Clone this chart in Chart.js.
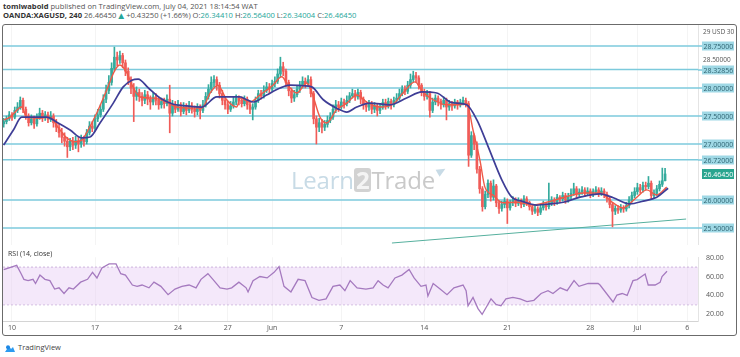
<!DOCTYPE html>
<html>
<head>
<meta charset="utf-8">
<script src="https://cdn.jsdelivr.net/npm/chart.js@4.4.1/dist/chart.umd.min.js"></script>
<style>
  html, body { margin:0; padding:0; background:#fff; }
  body { width:740px; height:357px; position:relative; overflow:hidden; font-family:"Open Sans", "DejaVu Sans", sans-serif; }
  .hdr { position:absolute; left:3px; white-space:nowrap; font-size:7.6px; color:#555; line-height:9px; }
  #h1 { top:2px; }
  #h2 { top:11px; }
  .hdr b { color:#333; font-weight:700; }
  .tv { color:#26a69a; }
  #frame { position:absolute; left:2px; top:24px; width:735px; height:312px; border:1px solid #6b6b6b; border-radius:3px; box-sizing:border-box; }
  #priceCanvas { position:absolute; left:3px; top:25px; }
  #rsiCanvas { position:absolute; left:3px; top:245px; }
  #wm { position:absolute; left:291px; top:165px; font-size:24px; line-height:30px; white-space:nowrap; letter-spacing:-0.2px; pointer-events:none; }
  #wm .a { color:#c8dbe6; }
  #wm .two { display:inline-block; background:#d2d2d2; color:#f4f4f4; border-radius:3px; padding:0 2px; line-height:24px; font-weight:700; }
  #wm .b { color:#c9c9c9; }
  #wm .flag { display:inline-block; width:0; height:0; border-left:9px solid #c8dbe6; border-top:4px solid transparent; border-bottom:4px solid transparent; vertical-align:14px; margin-left:2px; transform:rotate(-30deg); }
  #foot { position:absolute; left:4px; top:342px; font-size:7.5px; color:#444; white-space:nowrap; }
  #foot svg { vertical-align:middle; margin-right:2px; }
</style>
</head>
<body>
<div class="hdr" id="h1"><b>tomiwabold</b> published on TradingView.com, July 04, 2021 18:14:54 WAT</div>
<div class="hdr" id="h2"><b>OANDA:XAGUSD, 240</b> 26.46450 <span class="tv">▲</span> +0.43250 (+1.66%) O:<span class="tv">26.34410</span> H:<span class="tv">26.56400</span> L:<span class="tv">26.34004</span> C:<span class="tv">26.46450</span></div>
<div id="frame"></div>
<canvas id="priceCanvas" width="733" height="220"></canvas>
<canvas id="rsiCanvas" width="733" height="90"></canvas>
<div id="wm"><span class="a">Learn</span><span class="two">2</span><span class="b">Trade</span><span class="flag"></span></div>
<div id="foot"><svg width="12" height="9" viewBox="0 0 12 9"><path d="M1 8 L5 2 L7 5 L9 3 L11 8 Z" fill="#2d9bf0"/><circle cx="4" cy="3.2" r="2" fill="#1e88e5"/></svg>TradingView</div>

<script>
// ---------- DATA ----------
const firstOpen = 27.36;
const closes = [
27.40,27.45,27.52,27.48,27.60,27.66,27.78,27.62,27.50,27.38,
27.45,27.36,27.48,27.55,27.47,27.52,27.44,27.50,27.38,27.30,
27.20,27.12,27.05,26.95,27.05,26.98,27.06,27.00,27.08,27.04,
27.20,27.32,27.28,27.45,27.52,27.62,27.80,27.95,28.10,28.35,
28.55,28.50,28.58,28.45,28.30,28.15,28.00,27.85,27.92,27.85,
27.78,27.88,27.80,27.75,27.84,27.78,27.70,27.76,27.72,27.80,
27.55,27.70,27.62,27.70,27.58,27.66,27.60,27.68,27.62,27.58,
27.65,27.60,27.70,27.85,27.98,28.10,28.15,28.05,27.90,27.78,
27.70,27.62,27.68,27.75,27.82,27.78,27.72,27.80,27.70,27.62,
27.66,27.78,27.90,27.86,27.96,28.02,27.98,28.08,28.12,28.25,
28.38,28.30,28.10,27.95,27.82,27.88,27.98,28.05,28.12,28.08,
28.15,27.90,27.45,27.30,27.38,27.30,27.35,27.42,27.48,27.62,
27.70,27.66,27.75,27.72,27.78,27.86,27.90,27.84,27.92,27.80,
27.70,27.66,27.72,27.62,27.68,27.60,27.66,27.74,27.68,27.76,
27.70,27.78,27.82,27.90,27.98,27.94,28.05,28.15,28.22,28.18,
28.05,27.92,27.85,27.90,27.60,27.75,27.82,27.76,27.70,27.78,
27.66,27.72,27.68,27.75,27.70,27.74,27.78,27.72,26.80,27.15,
27.00,26.55,26.20,25.88,26.10,26.30,26.05,26.25,25.95,25.85,
25.92,25.98,25.86,25.95,26.00,25.94,25.98,25.92,26.02,25.96,
25.88,25.80,25.84,25.78,25.86,25.92,25.88,25.95,26.00,25.96,
26.05,26.02,26.08,26.00,26.06,26.12,26.20,26.10,26.14,26.18,
26.12,26.16,26.10,26.15,26.18,26.12,26.16,26.10,26.02,25.92,
25.80,25.85,25.82,25.86,25.84,25.90,26.00,26.08,26.15,26.22,
26.18,26.26,26.24,26.30,26.08,26.12,26.20,26.28,26.3441,26.4645
];
const highs = [
27.46,27.50,27.58,27.56,27.66,27.74,27.84,27.82,27.66,27.54,
27.52,27.50,27.54,27.64,27.60,27.58,27.57,27.58,27.54,27.44,
27.36,27.28,27.20,27.12,27.10,27.12,27.14,27.12,27.16,27.14,
27.26,27.40,27.40,27.52,27.62,27.70,27.88,28.05,28.22,28.45,
28.73,28.64,28.66,28.62,28.50,28.36,28.20,28.08,28.02,27.98,
27.92,27.96,27.94,27.86,27.92,27.90,27.84,27.82,27.82,27.88,
28.05,27.78,27.76,27.78,27.74,27.74,27.72,27.76,27.74,27.68,
27.72,27.70,27.78,27.92,28.06,28.20,28.22,28.20,28.10,27.96,
27.84,27.76,27.76,27.84,27.88,27.86,27.84,27.86,27.84,27.76,
27.72,27.84,27.96,27.96,28.04,28.10,28.08,28.14,28.20,28.34,
28.55,28.46,28.34,28.14,28.00,27.96,28.04,28.12,28.20,28.18,
28.22,28.20,27.94,27.50,27.46,27.44,27.42,27.50,27.56,27.70,
27.78,27.76,27.82,27.80,27.86,27.92,27.98,27.96,27.98,27.96,
27.84,27.76,27.78,27.76,27.74,27.72,27.72,27.80,27.80,27.82,
27.80,27.84,27.90,27.98,28.04,28.04,28.12,28.25,28.30,28.28,
28.22,28.08,27.98,27.96,27.94,27.82,27.88,27.86,27.80,27.84,
27.82,27.78,27.76,27.80,27.78,27.80,27.84,27.82,27.76,27.22,
27.18,27.04,26.60,26.24,26.16,26.36,26.34,26.36,26.28,25.98,
25.98,26.04,26.02,26.00,26.06,26.04,26.04,26.02,26.08,26.06,
25.98,25.92,25.90,25.88,25.92,25.98,25.96,26.30,26.06,26.04,
26.10,26.08,26.14,26.12,26.12,26.20,26.30,26.24,26.20,26.24,
26.22,26.22,26.20,26.20,26.24,26.22,26.22,26.20,26.14,26.06,
25.96,25.90,25.90,25.92,25.90,25.96,26.06,26.14,26.22,26.30,
26.28,26.32,26.32,26.42,26.34,26.18,26.26,26.34,26.57,26.564
];
const lows = [
27.30,27.36,27.42,27.42,27.45,27.56,27.62,27.56,27.44,27.32,
27.34,27.28,27.32,27.44,27.40,27.42,27.38,27.40,27.30,27.22,
27.12,27.02,26.96,26.76,26.88,26.90,26.92,26.86,26.94,26.96,
27.00,27.16,27.22,27.24,27.40,27.48,27.58,27.74,27.90,28.05,
28.30,28.40,28.44,28.36,28.22,28.06,27.90,27.40,27.78,27.76,
27.68,27.72,27.70,27.62,27.70,27.70,27.62,27.64,27.64,27.68,
27.20,27.50,27.56,27.58,27.50,27.54,27.52,27.56,27.55,27.48,
27.52,27.45,27.56,27.66,27.80,27.92,28.02,27.96,27.82,27.70,
27.62,27.54,27.58,27.64,27.70,27.70,27.66,27.68,27.62,27.54,
27.43,27.62,27.74,27.80,27.82,27.92,27.90,27.94,28.02,28.08,
28.20,28.22,28.02,27.86,27.74,27.76,27.84,27.92,28.00,28.00,
28.04,27.84,27.36,27.00,27.22,27.20,27.24,27.30,27.38,27.44,
27.56,27.58,27.62,27.64,27.68,27.74,27.82,27.78,27.80,27.72,
27.62,27.58,27.60,27.54,27.56,27.50,27.54,27.62,27.62,27.64,
27.62,27.66,27.74,27.78,27.86,27.88,27.90,28.00,28.10,28.10,
27.98,27.86,27.78,27.80,27.48,27.56,27.70,27.68,27.62,27.66,
27.43,27.60,27.60,27.64,27.62,27.66,27.70,27.66,26.60,26.76,
26.90,26.48,26.12,25.80,25.84,26.04,25.98,26.00,25.88,25.76,
25.80,25.86,25.58,25.82,25.90,25.88,25.90,25.86,25.88,25.90,
25.82,25.74,25.76,25.72,25.74,25.82,25.82,25.84,25.90,25.90,
25.92,25.96,25.98,25.94,25.96,26.02,26.08,26.04,26.06,26.10,
26.06,26.08,26.04,26.06,26.10,26.06,26.08,26.04,25.96,25.86,
25.52,25.74,25.76,25.78,25.78,25.80,25.86,25.96,26.04,26.10,
26.12,26.14,26.18,26.20,26.02,26.04,26.08,26.16,26.24,26.34
];

// short (red) and long (blue) moving averages
const redMaIdx = [0,2.3,6.5,8.3,13.1,16.7,19.6,22.8,25.8,28.2,30.5,33.6,37.2,40.2,42,44.5,46.7,49.3,54,58.9,62.5,67.3,71.6,74.6,77.4,80.6,84.2,85.4,89,92.6,97.3,100.5,102.7,105.9,109.5,111.3,114.3,116.7,120.3,124,127.6,131.2,136,140.7,144.3,148.6,151.5,155.2,160.1,164.9,167.3,169.6,172.1,173.9,176.8,180.4,185.4,191.3,196.2,202.1,209.4,215.5,220.2,223.8,228.8,232.4,236,239.6];
const redMaVal = [27.43,27.48,27.66,27.48,27.46,27.48,27.30,27.11,27.04,27.07,27.25,27.55,27.96,28.32,28.41,28.27,28.02,27.84,27.82,27.75,27.66,27.64,27.64,27.91,28.05,27.79,27.66,27.82,27.75,27.875,28.05,28.20,28.05,27.91,28.09,27.93,27.48,27.375,27.61,27.73,27.875,27.75,27.66,27.71,27.91,28.11,27.93,27.79,27.70,27.70,27.73,27.25,26.71,26.23,26.09,25.95,25.96,25.91,25.96,26.04,26.125,26.125,25.95,25.86,26.05,26.18,26.09,26.23];
const blueMaIdx = [0,3.5,6.5,10.7,15.5,19.2,24,28.2,31.2,34.8,39.6,43.2,46.3,48.6,52.3,56.5,61.3,66.1,71.6,77,81.8,85.4,87.8,90.2,95,99.9,103.5,108.3,111.3,115.5,120.3,124,127.6,132.4,139.6,145.6,151.1,156.5,161.3,163.7,167.3,171,175.1,180,183.6,187.2,192.6,197.4,202.2,208.3,215.5,220.3,226.3,231.1,236,240.1];
const blueMaVal = [26.98,27.25,27.48,27.48,27.48,27.39,27.25,27.11,27.125,27.375,27.73,28.02,28.14,28.16,28.0,27.82,27.71,27.68,27.66,27.84,27.84,27.84,27.79,27.75,27.875,28.0,28.05,28.04,28.02,27.79,27.64,27.57,27.66,27.73,27.70,27.82,27.93,27.91,27.75,27.73,27.70,27.43,26.95,26.36,26.05,25.98,25.91,25.93,25.96,26.05,26.11,26.04,25.93,25.98,26.05,26.21];

// RSI (14, close)
const rsiIdx = [0,4.7,6.3,7.3,8.8,10.6,11.5,13.1,14.9,16.7,18.4,20,21.8,23.6,25.2,27.8,30.3,32.1,33.7,35.5,38.1,40.6,42.3,44,46.5,48.2,50,52.5,54.3,56.8,59.4,61.9,64.4,67,69.5,71.3,73.8,75.6,78.2,80.7,82.4,85,87.6,88.3,90.1,92.6,95.2,97.7,99.5,101.3,103.8,106.4,108.9,111.4,113.9,116.5,119,121.5,123.3,125.2,127.7,130.9,133.5,135.3,137.1,138.9,141.4,143.9,146.5,148.3,150.8,152.6,153.3,155.2,157.7,160.2,162.7,166,167.1,167.8,169.6,171.4,172.9,174.7,176.1,177.9,179.7,181.5,184,186.6,189.1,191.6,194.2,196.7,198.5,201.1,203.6,206.1,207.9,211.2,214.8,215.5,220.2,221.6,223.5,225.3,227.4,228.9,231.8,232.9,235.4,237.2,237.9,239.7];
const rsiVal = [67.4,71.8,63,57,55.6,57,52.6,61.5,57,55.6,46.7,48,42,48,46.7,54,57,64.4,58.5,69,73.3,73.3,63,61.5,51,49.6,51,48,54,49.6,40.8,46.7,49.6,51,48,57,63,57,48,46.7,48,54,48,43.7,55.6,60,58.5,64.4,70.4,49.6,43.7,57,55.6,37.8,34.8,36.3,49.6,51,45,55.6,48,46.7,48,55.6,51,48,58.5,61.5,67.4,58.5,49.6,51,39.3,52.6,46.7,40.8,48,51,45,29,37.8,26,20,29,36.3,30.4,29,36.3,37.8,36.3,33.4,34.8,42,45,42,48,45,55.6,49.6,52.6,52.6,51,33,40.4,42,40,55.6,56.7,62.7,51,51,53.8,60,65.6];

// drawn levels and trend line
const levelPrices = [28.75, 28.32856, 28.0, 27.5, 27.0, 26.72, 26.0, 25.5];
const levelLabels = ['28.75000','28.32856','28.00000','27.50000','27.00000','26.72000','26.00000','25.50000'];
const plainPrices = [29.0, 28.5];
const plainLabels = ['29 USD 30', '28.50000'];
const trendIdx = [140.3, 246.6];
const trendVal = [25.232, 25.66];

// x-axis ticks (bar index -> label)
const tickIdx = [3, 33, 63, 81, 97, 122, 152, 182, 212, 229, 247];
const tickLabels = ['10', '17', '24', '27', 'Jun', '7', '14', '21', '28', 'Jul', '6'];
const rsiTicks = [20, 40, 60, 80];

// ---------- BUILD ----------
const X_MIN = -0.25, X_MAX = 250.9;
const UP = '#35ab9d', DOWN = '#f05c58';
Chart.defaults.font.family = '"Open Sans", "DejaVu Sans", sans-serif';
Chart.defaults.animation = false;

const opens = closes.map((c, i) => i === 0 ? firstOpen : closes[i - 1]);
const candleColors = closes.map((c, i) => c >= opens[i] ? UP : DOWN);
const bodies = closes.map((c, i) => ({ x: i, y: [Math.min(opens[i], c), Math.max(opens[i], c)] }));
const wicks = closes.map((c, i) => ({ x: i, y: [lows[i], highs[i]] }));
const redMa = redMaIdx.map((x, k) => ({ x, y: redMaVal[k] }));
const blueMa = blueMaIdx.map((x, k) => ({ x, y: blueMaVal[k] }));
const rsiPts = rsiIdx.map((x, k) => ({ x, y: rsiVal[k] }));
const trend = trendIdx.map((x, k) => ({ x, y: trendVal[k] }));
const lastClose = closes[closes.length - 1];

const LEVEL_COLOR = '#7ccadc';

const priceLabels = {
  id: 'priceLabels',
  afterDraw(chart) {
    const ctx = chart.ctx, y = chart.scales.y, ca = chart.chartArea;
    ctx.save();
    ctx.textBaseline = 'middle';
    ctx.font = '6.5px "Open Sans", sans-serif';
    plainPrices.forEach((p, k) => {
      const py = y.getPixelForValue(p);
      ctx.fillStyle = '#555';
      ctx.fillText(plainLabels[k], ca.right + 5, py);
    });
    ctx.font = '7px "Open Sans", sans-serif';
    levelPrices.forEach((p, k) => {
      const py = Math.round(y.getPixelForValue(p));
      ctx.strokeStyle = LEVEL_COLOR; ctx.lineWidth = 1.5;
      ctx.beginPath(); ctx.moveTo(ca.right, py); ctx.lineTo(ca.right + 5, py); ctx.stroke();
      ctx.fillStyle = '#9fd8e5';
      ctx.fillRect(ca.right + 4, py - 4.5, 32, 9);
      ctx.fillStyle = '#2f6472';
      ctx.fillText(levelLabels[k], ca.right + 5.5, py + 0.5);
    });
    const py = Math.round(y.getPixelForValue(lastClose));
    ctx.fillStyle = '#2aa58f';
    ctx.fillRect(ca.right + 4, py - 5, 32, 10);
    ctx.fillStyle = '#ffffff';
    ctx.fillText(lastClose.toFixed(5), ca.right + 5.5, py + 0.5);
    ctx.restore();
  }
};

const levelSets = levelPrices.map(p => ({
  type: 'line', data: [{ x: X_MIN, y: p }, { x: X_MAX, y: p }],
  borderColor: LEVEL_COLOR, borderWidth: 1.5, pointRadius: 0
}));

new Chart(document.getElementById('priceCanvas'), {
  type: 'bar',
  data: {
    datasets: [
      { type: 'line', data: blueMa, borderColor: '#3e3d96', borderWidth: 1.7, pointRadius: 0, cubicInterpolationMode: 'monotone' },
      { type: 'line', data: redMa, borderColor: '#ef5a48', borderWidth: 1.4, pointRadius: 0, cubicInterpolationMode: 'monotone' },
      { type: 'bar', data: bodies, backgroundColor: candleColors, barThickness: 2, minBarLength: 1, grouped: false, borderWidth: 0 },
      { type: 'bar', data: wicks, backgroundColor: candleColors, barThickness: 1, grouped: false, borderWidth: 0 },
      { type: 'line', data: trend, borderColor: '#56b09e', borderWidth: 1, pointRadius: 0 },
      ...levelSets
    ]
  },
  options: {
    responsive: false, animation: false, events: [],
    layout: { padding: 0 },
    plugins: { legend: { display: false }, tooltip: { enabled: false } },
    scales: {
      x: {
        type: 'linear', min: X_MIN, max: X_MAX, offset: false,
        afterBuildTicks: s => { s.ticks = tickIdx.map(v => ({ value: v })); },
        ticks: { display: false },
        grid: { color: 'rgba(0,0,0,0.045)', drawTicks: false, offset: false },
        border: { display: false },
        afterFit: s => { s.height = 0; }
      },
      y: {
        position: 'right', min: 25.1964, max: 29.125,
        ticks: { display: false },
        grid: { display: false },
        border: { color: '#e4e4e4' },
        afterFit: s => { s.width = 38; }
      }
    }
  },
  plugins: [priceLabels]
});

const rsiLabel = {
  id: 'rsiLabel',
  afterDraw(chart) {
    const ctx = chart.ctx;
    ctx.save();
    ctx.font = '7px "Open Sans", sans-serif';
    ctx.fillStyle = '#333';
    ctx.textBaseline = 'middle';
    ctx.fillText('RSI (14, close)', 5, 9);
    ctx.restore();
  }
};

new Chart(document.getElementById('rsiCanvas'), {
  type: 'line',
  data: {
    datasets: [
      { data: rsiPts, borderColor: '#a57abf', borderWidth: 1.3, pointRadius: 0, tension: 0 },
      { data: [{ x: X_MIN, y: 70 }, { x: X_MAX, y: 70 }], borderColor: 'rgba(160,120,190,0.5)', borderDash: [2, 2], borderWidth: 1, pointRadius: 0, fill: '+1', backgroundColor: 'rgba(228,200,243,0.42)' },
      { data: [{ x: X_MIN, y: 30 }, { x: X_MAX, y: 30 }], borderColor: 'rgba(160,120,190,0.5)', borderDash: [2, 2], borderWidth: 1, pointRadius: 0, fill: false }
    ]
  },
  options: {
    responsive: false, animation: false, events: [],
    layout: { padding: 0 },
    plugins: { legend: { display: false }, tooltip: { enabled: false } },
    scales: {
      x: {
        type: 'linear', min: X_MIN, max: X_MAX,
        afterBuildTicks: s => { s.ticks = tickIdx.map(v => ({ value: v })); },
        ticks: { autoSkip: false, maxRotation: 0, padding: 3, color: '#555', font: { size: 7 },
                 callback: (v, i) => tickLabels[i] },
        grid: { color: 'rgba(0,0,0,0.045)', drawTicks: false },
        border: { color: '#d4d4d4' },
        afterFit: s => { s.height = 14; }
      },
      y: {
        position: 'right', min: 12.9, max: 80.44,
        afterBuildTicks: s => { s.ticks = rsiTicks.map(v => ({ value: v })); },
        ticks: { padding: 8, color: '#555', font: { size: 7 }, callback: v => v.toFixed(2) },
        grid: { display: false, drawTicks: false },
        border: { color: '#e4e4e4' },
        afterFit: s => { s.width = 38; }
      }
    }
  },
  plugins: [rsiLabel]
});
</script>
</body>
</html>
